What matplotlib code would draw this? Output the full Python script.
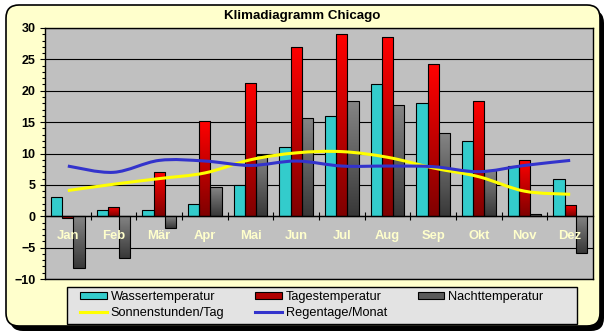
import matplotlib.pyplot as plt
import numpy as np
from matplotlib.path import Path
from matplotlib.patches import PathPatch, FancyBboxPatch, Patch, Rectangle
from matplotlib.lines import Line2D
from matplotlib.colors import LinearSegmentedColormap

plt.rcParams['font.family'] = ['Liberation Sans', 'DejaVu Sans']

monate = ['Jan', 'Feb', 'Mär', 'Apr', 'Mai', 'Jun',
          'Jul', 'Aug', 'Sep', 'Okt', 'Nov', 'Dez']
wasser = [3, 1, 1, 2, 5, 11, 16, 21, 18, 12, 8, 6]
tages = [-0.2, 1.5, 7, 15.2, 21.2, 27, 29, 28.5, 24.2, 18.3, 9, 1.8]
nacht = [-8.2, -6.7, -1.8, 4.6, 9.8, 15.7, 18.3, 17.7, 13.2, 7.3, 0.3, -5.9]
sonne = [4.1, 5.1, 6.0, 6.9, 9.0, 10.1, 10.3, 9.4, 7.7, 6.3, 4.0, 3.5]
regen = [8.0, 7.0, 8.9, 8.8, 8.1, 8.8, 8.0, 8.0, 7.9, 7.1, 8.1, 8.9]

W, H = 609, 336
fig = plt.figure(figsize=(W / 100, H / 100), dpi=100)
fig.patch.set_facecolor('white')

# hintergrund: gelbe abgerundete karte mit schatten, in pixeleinheiten
bg = fig.add_axes([0, 0, 1, 1])
bg.set_xlim(0, W)
bg.set_ylim(H, 0)
bg.axis('off')
bg.add_patch(FancyBboxPatch((10, 10), 594, 321, boxstyle='round,pad=0,rounding_size=13',
                            facecolor='black', edgecolor='black', lw=0))
bg.add_patch(FancyBboxPatch((6, 5), 594, 321, boxstyle='round,pad=0,rounding_size=13',
                            facecolor='#FFFFCC', edgecolor='black', lw=1.2))
# legendenkasten
bg.add_patch(Rectangle((66.7, 287.3), 510, 36.7, facecolor='#E3E3E3',
                       edgecolor='black', lw=1))

fig.text(302.5 / W, 1 - 16 / H, 'Klimadiagramm Chicago', ha='center', va='center',
         fontsize=9.6, fontweight='bold')

ax = fig.add_axes([45 / W, 1 - 279 / H, 548 / W, 251 / H])
ax.set_facecolor('#C0C0C0')
for s in ax.spines.values():
    s.set_color('black')
    s.set_linewidth(1)

x = np.arange(len(monate))
bw = 0.248


def verlauf(rects, oben, unten):
    cmap = LinearSegmentedColormap.from_list('v', [unten, oben])
    grad = np.linspace(0, 1, 64).reshape(-1, 1)
    for r in rects:
        x0, y0 = r.get_x(), r.get_y()
        w, h = r.get_width(), r.get_height()
        if h == 0:
            continue
        im = ax.imshow(grad, extent=(x0, x0 + w, min(y0, y0 + h), max(y0, y0 + h)),
                       origin='lower', cmap=cmap, aspect='auto', zorder=2,
                       interpolation='bilinear')
        im.set_clip_path(r)
        r.set_facecolor('none')


ax.bar(x - bw, wasser, bw, color='#33CCCC', edgecolor='black', lw=0.8, zorder=3)
b2 = ax.bar(x, tages, bw, color='#CC0000', edgecolor='black', lw=0.8, zorder=3)
b3 = ax.bar(x + bw, nacht, bw, color='#606060', edgecolor='black', lw=0.8, zorder=3)
verlauf(b2, '#FF0000', '#800000')
verlauf(b3, '#858585', '#383838')


def glatt(werte, farbe):
    pts = np.column_stack([x, np.asarray(werte, float)])
    ext = np.vstack([pts[0], pts, pts[-1]])
    verts = [pts[0]]
    codes = [Path.MOVETO]
    for i in range(len(pts) - 1):
        p0, p1, p2, p3 = ext[i], ext[i + 1], ext[i + 2], ext[i + 3]
        verts += [p1 + (p2 - p0) / 6, p2 - (p3 - p1) / 6, p2]
        codes += [Path.CURVE4] * 3
    ax.add_patch(PathPatch(Path(verts, codes), fill=False, edgecolor=farbe,
                           lw=2.2, zorder=4, capstyle='butt'))


glatt(sonne, '#FFFF00')
glatt(regen, '#3333CC')

ax.set_xlim(-0.5, 11.5)
ax.set_ylim(-10, 30)
ax.set_yticks(range(-10, 31, 5))
ax.set_yticks(range(-10, 31), minor=True)
ax.yaxis.grid(True, color='black', lw=0.8, zorder=1)
ax.set_axisbelow(True)
ax.tick_params(axis='y', which='major', length=3.3, width=0.8, pad=3.5,
               labelsize=9)
ax.tick_params(axis='y', which='minor', length=2, width=0.8)
for t in ax.get_yticklabels():
    t.set_fontweight('bold')
ax.tick_params(axis='x', bottom=False, labelbottom=False)

# kategorienachse auf der nulllinie, beschriftung über den balken
sec = ax.secondary_xaxis(0.25)
sec.set_zorder(6)
sec.spines['bottom'].set_linewidth(1)
sec.set_xticks(np.arange(0.5, 11, 1))
sec.set_xticklabels([])
sec.set_xticks(x, monate, minor=True)
sec.tick_params(axis='x', which='major', direction='inout', length=6, width=0.8)
sec.tick_params(axis='x', which='minor', length=0, pad=10, labelsize=9.4,
                labelcolor='#FFFFCC')
for t in sec.get_xticklabels(minor=True):
    t.set_fontweight('bold')

griffe = [
    Patch(facecolor='#33CCCC', edgecolor='black', lw=0.8),
    Line2D([], [], color='#FFFF00', lw=2.2),
    Patch(facecolor='#B00000', edgecolor='black', lw=0.8),
    Line2D([], [], color='#3333CC', lw=2.2),
    Patch(facecolor='#5A5A5A', edgecolor='black', lw=0.8),
]
namen = ['Wassertemperatur', 'Sonnenstunden/Tag', 'Tagestemperatur',
         'Regentage/Monat', 'Nachttemperatur']
leg = fig.legend(griffe, namen, ncol=3, loc='upper left',
                 bbox_to_anchor=(80 / W, 1 - 291 / H), fontsize=9.2,
                 frameon=False, handlelength=2.1, handleheight=0.55,
                 handletextpad=0.3, columnspacing=2.4, borderpad=0,
                 labelspacing=0.3, borderaxespad=0)

fig.savefig('out.png', dpi=100)
